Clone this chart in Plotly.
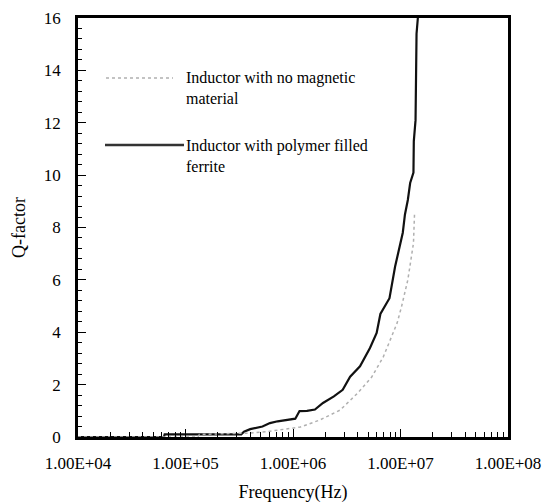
import plotly.graph_objects as go

# Inductor with polymer filled ferrite (solid black)
freq_ferrite = [1.0e4, 6.3e4, 6.4e4, 3.3e5, 3.5e5, 4.0e5, 5.2e5, 6.1e5, 7.2e5, 1.05e6, 1.15e6, 1.35e6, 1.6e6,
                1.9e6, 2.4e6, 2.9e6, 3.4e6, 4.2e6, 5.2e6, 6.0e6, 6.5e6, 7.9e6, 8.9e6,
                9.5e6, 1.05e7, 1.1e7, 1.17e7, 1.23e7, 1.32e7, 1.33e7, 1.38e7, 1.41e7, 1.45e7]
q_ferrite = [0.0, 0.0, 0.1, 0.1, 0.2, 0.3, 0.4, 0.53, 0.6, 0.7, 0.99, 1.0, 1.05,
             1.3, 1.55, 1.8, 2.3, 2.7, 3.4, 3.97, 4.7, 5.3, 6.5,
             7.0, 7.8, 8.5, 9.05, 9.7, 10.1, 11.3, 12.1, 15.4, 16.0]

# Inductor with no magnetic material (dotted grey)
freq_air = [1.0e4, 1.3e5, 1.35e5, 3.0e5, 4.0e5, 5.6e5, 7.6e5, 1.17e6, 1.78e6, 2.75e6, 4.0e6,
            5.4e6, 6.9e6, 9.3e6, 1.02e7, 1.17e7, 1.32e7, 1.35e7]
q_air = [0.0, 0.0, 0.1, 0.12, 0.15, 0.2, 0.27, 0.38, 0.65, 1.03, 1.68,
         2.29, 3.05, 4.35, 4.96, 6.0, 7.4, 8.5]

x_tickvals = [1e4, 1e5, 1e6, 1e7, 1e8]
x_ticktext = ["1.00E+04", "1.00E+05", "1.00E+06", "1.00E+07", "1.00E+08"]
x_minor = [m * 10 ** e for e in range(4, 8) for m in range(2, 10)]
X_RANGE = [4, 8]
Y_RANGE = [0, 16]

FONT = "Times New Roman, Liberation Serif, serif"

fig = go.Figure()
# air-core trace on the overlay axes (same ranges) so the inside ticks are drawn there
fig.add_trace(go.Scatter(x=freq_air, y=q_air, mode="lines", xaxis="x2", yaxis="y2",
                         line=dict(color="#b0b0b0", width=1.5, dash="dot"),
                         name="Inductor with no magnetic material", showlegend=False))
fig.add_trace(go.Scatter(x=freq_ferrite, y=q_ferrite, mode="lines",
                         line=dict(color="#111111", width=2.2),
                         name="Inductor with polymer filled ferrite", showlegend=False))

# page has an 8px body margin: figure is placed at (8, 8)
OFF = 8
W, H = 550 - OFF, 503 - OFF
# plot area in page pixels
L, R, T, B = 78, 508, 18, 437
def px(x):
    return (x - L) / (R - L)
def py(y):
    return (B - y) / (B - T)

fig.add_shape(type="line", xref="paper", yref="paper", x0=px(106), x1=px(173), y0=py(78), y1=py(78),
              line=dict(color="#b0b0b0", width=1.5, dash="dot"))
fig.add_shape(type="line", xref="paper", yref="paper", x0=px(105), x1=px(184), y0=py(145), y1=py(145),
              line=dict(color="#333333", width=2.5))
fig.add_annotation(xref="paper", yref="paper", x=px(184), y=py(88), xanchor="left", yanchor="middle",
                   text="Inductor with no magnetic<br>material", showarrow=False, align="left",
                   font=dict(family=FONT, size=16, color="black"))
fig.add_annotation(xref="paper", yref="paper", x=px(184), y=py(156), xanchor="left", yanchor="middle",
                   text="Inductor with polymer filled<br>ferrite", showarrow=False, align="left",
                   font=dict(family=FONT, size=16, color="black"))

TRANSP = "rgba(0,0,0,0)"
fig.update_layout(
    xaxis=dict(type="log", range=X_RANGE, tickmode="array", tickvals=x_tickvals, ticktext=x_ticktext,
               ticks="outside", ticklen=9, tickcolor=TRANSP, automargin=False,
               showline=True, linewidth=2.5, linecolor="black", mirror=True,
               showgrid=False, zeroline=False,
               title=dict(text="Frequency(Hz)", font=dict(family=FONT, size=18, color="black"), standoff=16),
               tickfont=dict(family=FONT, size=17, color="black")),
    yaxis=dict(range=Y_RANGE, tickmode="linear", tick0=0, dtick=2,
               ticks="outside", ticklen=11, tickcolor=TRANSP, automargin=False,
               showline=True, linewidth=2.5, linecolor="black", mirror=True,
               showgrid=False, zeroline=False,
               title=dict(text="Q-factor", font=dict(family=FONT, size=18, color="black"), standoff=14),
               tickfont=dict(family=FONT, size=17, color="black")),
    xaxis2=dict(type="log", range=X_RANGE, overlaying="x", anchor="y2", side="bottom",
                tickmode="array", tickvals=x_tickvals, showticklabels=False,
                ticks="inside", ticklen=8, tickwidth=1.2, tickcolor="#000000",
                minor=dict(ticks="inside", ticklen=5, tickwidth=1, tickcolor="#000000", showgrid=False,
                           tickmode="array", tickvals=x_minor),
                showline=False, showgrid=False, zeroline=False, automargin=False),
    yaxis2=dict(range=Y_RANGE, overlaying="y", anchor="x2", side="left",
                tickmode="linear", tick0=0, dtick=2, showticklabels=False,
                ticks="inside", ticklen=8, tickwidth=1.2, tickcolor="#000000",
                minor=dict(ticks="inside", ticklen=4, tickwidth=1, tick0=0, dtick=0.4, tickcolor="#000000", showgrid=False),
                showline=False, showgrid=False, zeroline=False, automargin=False),
    width=W, height=H, margin=dict(l=L - OFF, r=550 - R, t=T - OFF, b=503 - B),
    plot_bgcolor="white", paper_bgcolor="white", showlegend=False,
    font=dict(family=FONT, color="black"))

fig.write_html("out.html")
